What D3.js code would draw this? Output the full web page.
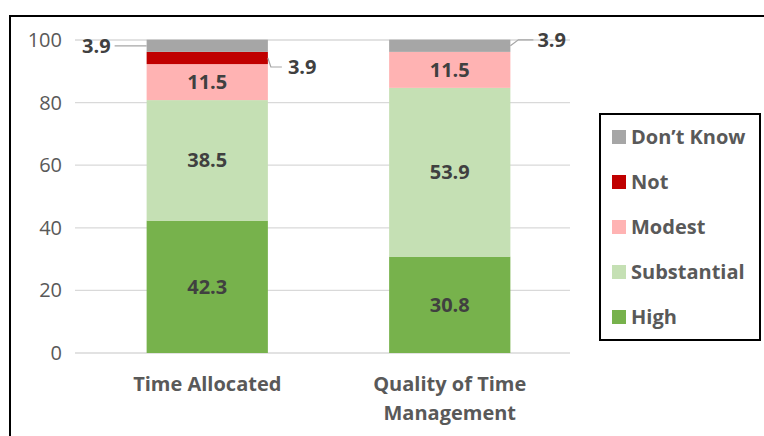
<!DOCTYPE html>
<html>
<head>
<meta charset="utf-8">
<script src="https://cdn.jsdelivr.net/npm/d3@7"></script>
<style>
  body { margin: 0; background: #fff; }
  svg text { font-family: "Open Sans", sans-serif; }
</style>
</head>
<body>
<svg id="chart" width="764" height="436"></svg>
<script>
const categories = ["Time Allocated", "Quality of Time Management"];
const seriesNames = ["High", "Substantial", "Modest", "Not", "Don’t Know"];
const high        = [42.3, 30.8];
const substantial = [38.5, 53.9];
const modest      = [11.5, 11.5];
const notAtAll    = [3.9, 0];
const dontKnow    = [3.9, 3.9];
const yTicks = [0, 20, 40, 60, 80, 100];

const colors = {
  "High": "#77b24c",
  "Substantial": "#c5e0b4",
  "Modest": "#ffb3b3",
  "Not": "#c00000",
  "Don’t Know": "#a6a6a6"
};

const FS = 20;

// tabella per d3.stack costruita dalle serie
const rows = categories.map((c, i) => ({
  cat: c,
  "High": high[i],
  "Substantial": substantial[i],
  "Modest": modest[i],
  "Not": notAtAll[i],
  "Don’t Know": dontKnow[i]
}));

const svg = d3.select("#chart");

// cornice esterna
svg.append("path")
  .attr("d", "M10,436 L10,16 L770,16")
  .attr("fill", "none").attr("stroke", "#000").attr("stroke-width", 2);

const y = d3.scaleLinear().domain([0, 100]).range([353, 40]);
const x = d3.scaleBand().domain(categories).range([86, 571]).paddingInner(0.5).paddingOuter(0.25);

// griglia
svg.append("g").selectAll("line").data(yTicks).join("line")
  .attr("x1", 75).attr("x2", 570)
  .attr("y1", d => y(d)).attr("y2", d => y(d))
  .attr("stroke", "#d9d9d9").attr("stroke-width", 1.3);

// asse y
const yAxis = svg.append("g").attr("transform", "translate(66,0)")
  .call(d3.axisLeft(y).tickValues(yTicks).tickSize(0).tickPadding(4));
yAxis.select(".domain").remove();
yAxis.selectAll("text").attr("font-size", FS).attr("fill", "#595959")
  .style("font-family", "'Open Sans', sans-serif");

const stacked = d3.stack().keys(seriesNames)(rows);

const layers = svg.append("g").selectAll("g").data(stacked).join("g")
  .attr("fill", d => colors[d.key]);

layers.selectAll("rect").data(d => d).join("rect")
  .attr("x", d => x(d.data.cat))
  .attr("width", x.bandwidth())
  .attr("y", d => y(d[1]))
  .attr("height", d => y(d[0]) - y(d[1]));

// etichette interne
const inside = [];
stacked.forEach(s => {
  s.forEach(d => {
    const v = d[1] - d[0];
    if (v > 10) inside.push({ cat: d.data.cat, mid: (d[0] + d[1]) / 2, v });
  });
});
svg.append("g").selectAll("text").data(inside).join("text")
  .attr("x", d => x(d.cat) + x.bandwidth() / 2)
  .attr("y", d => y(d.mid))
  .attr("dy", "0.35em")
  .attr("text-anchor", "middle")
  .attr("font-size", FS).attr("font-weight", 700).attr("fill", "#404040")
  .text(d => d.v.toFixed(1));

// etichette esterne con linee guida
const lead = svg.append("g");
const dk = stacked[4], nt = stacked[3];
// Don't Know, barra 1: a sinistra
{
  const d = dk[0];
  const yy = y((d[0] + d[1]) / 2);
  const bx = x(d.data.cat);
  lead.append("line").attr("x1", bx - 32).attr("x2", bx).attr("y1", yy).attr("y2", yy)
    .attr("stroke", "#a6a6a6").attr("stroke-width", 1.2);
  lead.append("text").attr("x", bx - 36).attr("y", yy).attr("dy", "0.35em")
    .attr("text-anchor", "end").attr("font-size", FS).attr("font-weight", 700).attr("fill", "#404040")
    .text((d[1] - d[0]).toFixed(1));
}
// Not, barra 1: a destra
{
  const d = nt[0];
  const yy = y((d[0] + d[1]) / 2);
  const bx = x(d.data.cat) + x.bandwidth();
  lead.append("path").attr("d", `M${bx},${yy} L${bx + 3},${yy + 9} L${bx + 14},${yy + 9}`)
    .attr("fill", "none").attr("stroke", "#a6a6a6").attr("stroke-width", 1.2);
  lead.append("text").attr("x", bx + 20).attr("y", yy + 9).attr("dy", "0.35em")
    .attr("font-size", FS).attr("font-weight", 700).attr("fill", "#404040")
    .text((d[1] - d[0]).toFixed(1));
}
// Don't Know, barra 2: a destra
{
  const d = dk[1];
  const yy = y((d[0] + d[1]) / 2);
  const bx = x(d.data.cat) + x.bandwidth();
  lead.append("path").attr("d", `M${bx},${yy} L${bx + 8},${yy - 6} L${bx + 23},${yy - 6}`)
    .attr("fill", "none").attr("stroke", "#a6a6a6").attr("stroke-width", 1.2);
  lead.append("text").attr("x", bx + 27).attr("y", yy - 6).attr("dy", "0.35em")
    .attr("font-size", FS).attr("font-weight", 700).attr("fill", "#404040")
    .text((d[1] - d[0]).toFixed(1));
}

// etichette categorie
const catLines = { "Time Allocated": ["Time Allocated"], "Quality of Time Management": ["Quality of Time", "Management"] };
svg.append("g").selectAll("text").data(categories).join("text")
  .attr("x", d => x(d) + x.bandwidth() / 2)
  .attr("y", 391)
  .attr("text-anchor", "middle")
  .attr("font-size", FS).attr("font-weight", 700).attr("fill", "#595959")
  .each(function (d) {
    d3.select(this).selectAll("tspan").data(catLines[d]).join("tspan")
      .attr("x", x(d) + x.bandwidth() / 2)
      .attr("dy", (t, i) => i === 0 ? 0 : 29)
      .text(t => t);
  });

// legenda
const legend = svg.append("g");
legend.append("rect").attr("x", 600).attr("y", 114).attr("width", 160).attr("height", 226)
  .attr("fill", "#fff").attr("stroke", "#000").attr("stroke-width", 2);
const legendKeys = seriesNames.slice().reverse();
const li = legend.selectAll("g.item").data(legendKeys).join("g").attr("class", "item")
  .attr("transform", (d, i) => `translate(612, ${137 + i * 45})`);
li.append("rect").attr("x", 0).attr("y", -7).attr("width", 14).attr("height", 14)
  .attr("fill", d => colors[d]);
li.append("text").attr("x", 19).attr("dy", "0.35em")
  .attr("font-size", FS).attr("font-weight", 700).attr("fill", "#595959")
  .text(d => d);
</script>
</body>
</html>
